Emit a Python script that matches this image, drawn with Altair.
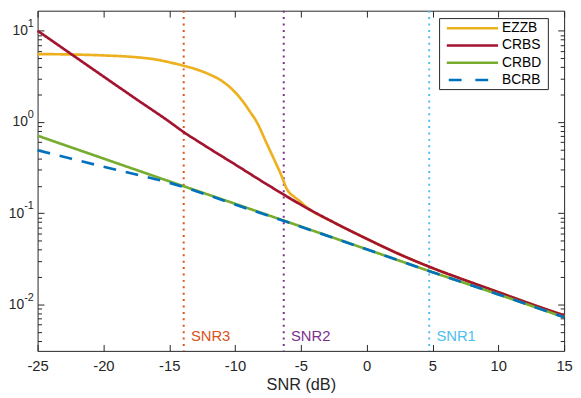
import altair as alt
import pandas as pd

# ---------------- data ----------------
NAMES = ["EZZB", "CRBS", "CRBD", "BCRB"]
COLORS = ["#EDB120", "#A2142F", "#77AC30", "#0072BD"]
DASHES = [[1, 0], [1, 0], [1, 0], [13, 10]]

ezzb_snr = [-25, -22.5, -20, -17.5, -16, -15, -14, -13, -12, -11, -10.35, -9.35,
            -8.85, -8.35, -7.6, -6.97, -6.47, -6.32, -6.1, -5.87, -5.5, -5.13, -4.63,
            -2.5, 0, 2.5, 5, 7.5, 10, 12.5, 15]
ezzb_val = [5.56, 5.50, 5.37, 5.13, 4.84, 4.52, 4.17, 3.80, 3.35, 2.82, 2.38, 1.64,
            1.29, 1.00, 0.585, 0.372, 0.257, 0.2265, 0.1884, 0.1679, 0.1514, 0.1374,
            0.1186, 0.0794, 0.0525, 0.0355, 0.0251, 0.0184, 0.01365, 0.0101, 0.00759]

crbs_snr = [-25, -22.5, -20, -17.5, -15, -14, -12.5, -10, -7.5, -5, -2.5, 0, 2.5, 5,
            7.5, 10, 12.5, 15]
crbs_val = [10.0, 5.62, 3.16, 1.78, 1.01, 0.794, 0.575, 0.343, 0.204, 0.124, 0.0794,
            0.0525, 0.0355, 0.0251, 0.0184, 0.01365, 0.0101, 0.00759]

crbd_snr = [-25, -20, -15, -10, -5, 0, 5, 10, 15]
crbd_val = [0.708, 0.398, 0.224, 0.127, 0.0716, 0.0403, 0.0226, 0.0129, 0.00724]

bcrb_snr = [-25, -22.5, -20, -17.5, -15, -12.5, -10, -7.5, -5, 0, 5, 10, 15]
bcrb_val = [0.490, 0.398, 0.324, 0.266, 0.216, 0.166, 0.1245, 0.0944, 0.0711, 0.0402,
            0.0226, 0.0129, 0.00724]

mark_snr = [-13.9, -6.3, 4.75]
mark_text = ["SNR3", "SNR2", "SNR1"]
mark_color = ["#D95319", "#7E2F8E", "#4DBEEE"]

x_ticks = [-25, -20, -15, -10, -5, 0, 5, 10, 15]
y_major = [0.01, 0.1, 1, 10]
y_major_exp = ["-2", "-1", "0", "1"]
y_minor = [0.004, 0.005, 0.006, 0.007, 0.008, 0.009,
           0.02, 0.03, 0.04, 0.05, 0.06, 0.07, 0.08, 0.09,
           0.2, 0.3, 0.4, 0.5, 0.6, 0.7, 0.8, 0.9,
           2, 3, 4, 5, 6, 7, 8, 9]

# ---------------- tables ----------------
rows = []
for name, xs, ys in [("EZZB", ezzb_snr, ezzb_val), ("CRBS", crbs_snr, crbs_val),
                     ("CRBD", crbd_snr, crbd_val), ("BCRB", bcrb_snr, bcrb_val)]:
    for i, (a, b) in enumerate(zip(xs, ys)):
        rows.append({"series": name, "i": i, "snr": a, "val": b})
df = pd.DataFrame(rows)
df_marks = pd.DataFrame({"snr": mark_snr, "label": mark_text, "col": mark_color})
df_leg = pd.DataFrame({"series": NAMES})
df_exp = pd.DataFrame({"v": y_major, "e": y_major_exp})

FONT = "Liberation Sans"
INK = "#262626"

xscale = alt.Scale(domain=[-25, 15], nice=False, zero=False)
yscale = alt.Scale(type="log", domain=[0.0031, 16.6], nice=False)

color = alt.Color("series:N", scale=alt.Scale(domain=NAMES, range=COLORS), legend=None)
dash = alt.StrokeDash("series:N", scale=alt.Scale(domain=NAMES, range=DASHES), legend=None)

ax_bottom = alt.Axis(orient="bottom", values=x_ticks, offset=-6.5, tickSize=6.5,
                     domain=False, grid=False, labelFontSize=15, labelPadding=8,
                     labelFlush=False, labelOverlap=False, title="SNR (dB)",
                     labelExpr="'' + datum.value",
                     titleFontSize=16.5, titleFontWeight="normal", titlePadding=3)
ax_top = alt.Axis(orient="top", values=x_ticks, offset=-6.5, tickSize=6.5,
                  domain=False, grid=False, labels=False, title=None)
ax_left = alt.Axis(orient="left", values=y_major, offset=-6.5, tickSize=6.5,
                   domain=False, grid=False, labelFontSize=14,
                   labelPadding={"condition": {"test": "datum.value < 0.5", "value": 14.1},
                                 "value": 10.4},
                   labelOverlap=False, labelFlush=False, title=None,
                   labelExpr="'10'")
ax_right = alt.Axis(orient="right", values=y_major, offset=-6.5, tickSize=6.5,
                    domain=False, grid=False, labels=False, title=None)
ax_left_minor = alt.Axis(orient="left", values=y_minor, offset=-4, tickSize=4,
                         domain=False, grid=False, labels=False, title=None)
ax_right_minor = alt.Axis(orient="right", values=y_minor, offset=-4, tickSize=4,
                          domain=False, grid=False, labels=False, title=None)

base = alt.Chart(df)

line_layers = []
for k, name in enumerate(NAMES):
    xa = ax_bottom if k == 0 else None
    ya = ax_left if k == 0 else None
    line_layers.append(
        base.transform_filter(alt.datum.series == name)
        .mark_line(strokeWidth=2.7, interpolate="monotone")
        .encode(
            x=alt.X("snr:Q", scale=xscale, axis=xa),
            y=alt.Y("val:Q", scale=yscale, axis=ya),
            order="i:Q",
            color=color,
            strokeDash=dash,
        )
    )

ghost_a = base.mark_point(opacity=0, size=1).encode(
    x=alt.X("snr:Q", scale=xscale, axis=ax_top),
    y=alt.Y("val:Q", scale=yscale, axis=ax_right),
)
ghost_b = base.mark_point(opacity=0, size=1).encode(
    x=alt.X("snr:Q", scale=xscale, axis=None),
    y=alt.Y("val:Q", scale=yscale, axis=ax_left_minor),
)
ghost_c = base.mark_point(opacity=0, size=1).encode(
    x=alt.X("snr:Q", scale=xscale, axis=None),
    y=alt.Y("val:Q", scale=yscale, axis=ax_right_minor),
)

# exponents of the y tick labels (10^k)
exps = alt.Chart(df_exp).mark_text(
    align="right", baseline="middle", dy=-7, fontSize=11, font=FONT, color=INK
).encode(
    x=alt.value(-3.8),
    y=alt.Y("v:Q", scale=yscale, axis=None),
    text="e:N",
)

rules = alt.Chart(df_marks).mark_rule(strokeDash=[2, 4.5], strokeWidth=2).encode(
    x=alt.X("snr:Q", scale=xscale, axis=None),
    color=alt.Color("col:N", scale=None),
)
texts = alt.Chart(df_marks).mark_text(
    align="left", baseline="alphabetic", dx=7.3, fontSize=15, font=FONT
).encode(
    x=alt.X("snr:Q", scale=xscale, axis=None),
    y=alt.value(334.7),
    text="label:N",
    color=alt.Color("col:N", scale=None),
)

# ---- legend box drawn as marks (MATLAB style) ----
leg_layers = [
    alt.Chart(df_leg.head(1)).mark_rect(fill="white", stroke=INK, strokeWidth=1).encode(
        x=alt.value(407.7), x2=alt.value(518), y=alt.value(8), y2=alt.value(80)
    )
]
for k, name in enumerate(NAMES):
    yk = 17.8 + 17.5 * k
    sub = df_leg[df_leg.series == name]
    x0 = 417 if name == "BCRB" else 415
    leg_layers.append(
        alt.Chart(sub).mark_rule(
            color=COLORS[k], strokeWidth=2.7,
            strokeDash=[13, 14] if name == "BCRB" else [1, 0]
        ).encode(x=alt.value(x0), x2=alt.value(467), y=alt.value(yk))
    )
    leg_layers.append(
        alt.Chart(sub).mark_text(
            align="left", baseline="middle", fontSize=14, font=FONT, color="black"
        ).encode(x=alt.value(471), y=alt.value(yk), text="series:N")
    )

chart = (
    alt.layer(rules, *line_layers, ghost_a, ghost_b, ghost_c, exps, texts, *leg_layers)
    .resolve_axis(x="independent", y="independent")
    .properties(width=534, height=345, autosize="none",
                padding={"left": 30, "top": 0, "right": 9, "bottom": 42})
    .configure_view(stroke=INK, strokeWidth=1)
    .configure_axis(labelFont=FONT, titleFont=FONT, labelColor=INK, titleColor=INK,
                    tickColor=INK, tickWidth=1)
)

chart.save("out.html", embed_options={"renderer": "svg", "actions": False})
